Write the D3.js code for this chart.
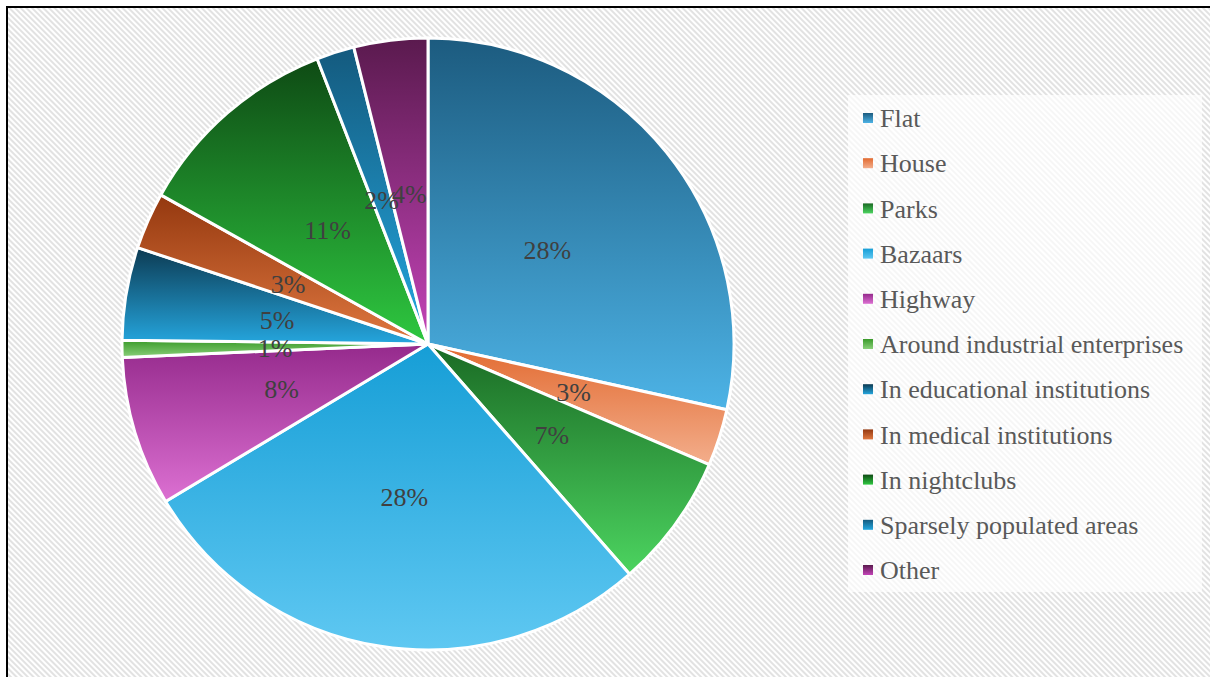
<!DOCTYPE html>
<html><head><meta charset="utf-8">
<script src="https://cdn.jsdelivr.net/npm/d3@7"></script>
<style>html,body{margin:0;padding:0;background:#fff;}svg{display:block;}</style>
</head><body>
<svg id="chart" width="1210" height="677"></svg>
<script>
const categories = ["Flat","House","Parks","Bazaars","Highway","Around industrial enterprises","In educational institutions","In medical institutions","In nightclubs","Sparsely populated areas","Other"];
const values = [28.45, 3.0, 7.1, 27.85, 7.9, 0.9, 4.9, 3.0, 11.0, 2.0, 3.9];
const colorTop = ["#1c5b7f","#e26a30","#1a6a24","#169ed6","#952a8c","#3a9a2a","#0c3a52","#94380f","#0e4a14","#145a7e","#5a1a4e"];
const colorBottom = ["#4db3e6","#f3ae8c","#4cd460","#5fc8f2","#dc70d2","#8ad07a","#25a6de","#e07840","#2ec840","#24a8e0","#c444b8"];

const svg = d3.select("#chart");
const defs = svg.append("defs");
const pat = defs.append("pattern").attr("id","hatch").attr("patternUnits","userSpaceOnUse")
  .attr("width",4).attr("height",4).attr("patternTransform","rotate(-45)");
pat.append("rect").attr("width",4).attr("height",4).attr("fill","#ffffff");
pat.append("rect").attr("width",2).attr("height",4).attr("fill","#e2e2e2");

categories.forEach((c,i)=>{
  const g = defs.append("linearGradient").attr("id","g"+i).attr("x1",0).attr("y1",0).attr("x2",0).attr("y2",1);
  g.append("stop").attr("offset","0%").attr("stop-color",colorTop[i]);
  g.append("stop").attr("offset","100%").attr("stop-color",colorBottom[i]);
});

svg.append("rect").attr("x",7).attr("y",7).attr("width",1220).attr("height",690)
  .attr("fill","url(#hatch)").attr("stroke","#000").attr("stroke-width",2);

const cx = 428, cy = 344, R = 306;
const pie = d3.pie().sort(null).value(d=>d);
const arcs = pie(values);
const arc = d3.arc().innerRadius(0).outerRadius(R);
const labelArc = d3.arc().innerRadius(153).outerRadius(153);
const total = d3.sum(values);
const fmt = v => Math.round(v/total*100) + "%";

const g = svg.append("g").attr("transform",`translate(${cx},${cy})`);
g.selectAll("path.slice").data(arcs).enter().append("path")
  .attr("class","slice").attr("d",arc)
  .attr("fill",(d,i)=>`url(#g${i})`)
  .attr("stroke","#fff").attr("stroke-width",3).attr("stroke-linejoin","round");

g.selectAll("text.lbl").data(arcs).enter().append("text")
  .attr("class","lbl")
  .attr("transform",d=>`translate(${labelArc.centroid(d)})`)
  .attr("text-anchor","middle").attr("dy","0.4em")
  .attr("font-family","'Liberation Serif', 'Times New Roman', serif")
  .attr("font-size",26).attr("fill","#404040")
  .text(d=>fmt(d.value));

// legend
svg.append("rect").attr("x",848).attr("y",95).attr("width",354).attr("height",497)
  .attr("fill","#fff").attr("fill-opacity",0.7);
const leg = svg.append("g");
const rowY = d3.scalePoint().domain(categories).range([118,570]);
const items = leg.selectAll("g.item").data(categories).enter().append("g")
  .attr("class","item").attr("transform",d=>`translate(863,${rowY(d)})`);
items.append("rect").attr("x",0).attr("y",-5).attr("width",10).attr("height",10)
  .attr("fill",(d,i)=>`url(#g${i})`);
items.append("text").attr("x",17).attr("y",0).attr("dy","0.35em")
  .attr("font-family","'Liberation Serif', 'Times New Roman', serif")
  .attr("font-size",26).attr("fill","#595959")
  .text(d=>d);
</script>
</body></html>
